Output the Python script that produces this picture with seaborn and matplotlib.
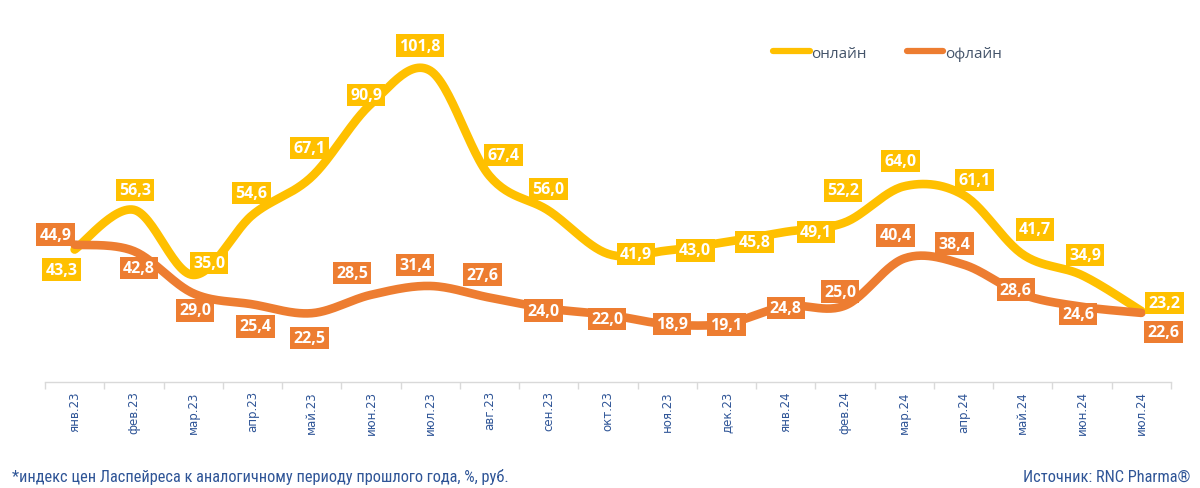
import numpy as np
import pandas as pd
import matplotlib
matplotlib.use("Agg")
import matplotlib.pyplot as plt
from matplotlib import font_manager
import seaborn as sns

# данные (индекс цен Ласпейреса, %)
months = ["янв.23", "фев.23", "мар.23", "апр.23", "май.23", "июн.23", "июл.23",
          "авг.23", "сен.23", "окт.23", "ноя.23", "дек.23", "янв.24", "фев.24",
          "мар.24", "апр.24", "май.24", "июн.24", "июл.24"]
online = [43.3, 56.3, 35.0, 54.6, 67.1, 90.9, 101.8, 67.4, 56.0, 41.9, 43.0,
          45.8, 49.1, 52.2, 64.0, 61.1, 41.7, 34.9, 23.2]
offline = [44.9, 42.8, 29.0, 25.4, 22.5, 28.5, 31.4, 27.6, 24.0, 22.0, 18.9,
           19.1, 24.8, 25.0, 40.4, 38.4, 28.6, 24.6, 22.6]

# смещения подписей (пиксели)
online_off = [(-13, -20), (1, 20), (16, 12), (-1, 22), (-2, 29), (-5, 9), (-10, 25),
              (14, 21), (0, 22), (28, 0), (28, 0), (28, 0), (30, 0), (-2, 32),
              (-4, 25), (11, 15), (12, 25), (3, 20), (23, 8)]
offline_off = [(-19, 10), (5, -17), (2, -17), (3, -22), (-2, -25), (-19, 22), (-15, 21),
               (-7, 23), (-5, -2), (-1, -4), (5, 0), (0, -1), (0, -2), (-5, 14),
               (-9, 23), (-9, 21), (-7, 5), (-4, -7), (22, -19)]

YELLOW = "#FFC000"
ORANGE = "#ED7D31"
BLUE = "#2F5597"


def smooth(y, n=30):
    # сглаживание как в Excel (кривые Безье через точки)
    x = np.arange(len(y), dtype=float)
    y = np.asarray(y, dtype=float)
    xs, ys = [], []
    for i in range(len(y) - 1):
        i0, i3 = max(i - 1, 0), min(i + 2, len(y) - 1)
        p0 = np.array([x[i], y[i]])
        p3 = np.array([x[i + 1], y[i + 1]])
        c1 = p0 + (p3 - np.array([x[i0], y[i0]])) / 6
        c2 = p3 - (np.array([x[i3], y[i3]]) - p0) / 6
        t = np.linspace(0, 1, n)[:, None]
        pts = (1 - t) ** 3 * p0 + 3 * (1 - t) ** 2 * t * c1 + 3 * (1 - t) * t ** 2 * c2 + t ** 3 * p3
        xs.extend(pts[:, 0])
        ys.extend(pts[:, 1])
    return xs, ys


# узкий шрифт для подписи снизу, если есть
names = {f.name for f in font_manager.fontManager.ttflist}
narrow = None
for cand in ["Liberation Sans Narrow", "DejaVu Sans Condensed", "Roboto Condensed", "Open Sans Condensed"]:
    if cand in names:
        narrow = cand
        break
foot_size = 11.8 if narrow else 9.3
foot_family = [narrow, "DejaVu Sans"] if narrow else ["DejaVu Sans"]

sns.set_theme(style="white")
plt.rcParams["font.family"] = ["Open Sans", "DejaVu Sans"]

fig = plt.figure(figsize=(12, 4.89), dpi=100)
ax = fig.add_axes([45 / 1200, (489 - 383) / 489, 1126 / 1200, 367 / 489])

for vals, col, name in [(online, YELLOW, "онлайн"), (offline, ORANGE, "офлайн")]:
    sx, sy = smooth(vals)
    df = pd.DataFrame({"x": sx, "y": sy})
    sns.lineplot(data=df, x="x", y="y", ax=ax, color=col, lw=6.2,
                 solid_capstyle="round", sort=False, label=name)

for vals, offs, col in [(offline, offline_off, ORANGE), (online, online_off, YELLOW)]:
    for i, (v, (dx, dy)) in enumerate(zip(vals, offs)):
        ax.annotate(f"{v:.1f}".replace(".", ","), (i, v), xytext=(dx, dy),
                    textcoords="offset pixels", ha="center", va="center",
                    fontsize=11.5, fontweight="bold", color="white", zorder=5,
                    bbox=dict(boxstyle="square,pad=0.2", fc=col, ec="none"))

ax.set_xlim(-0.5, len(months) - 0.5)
ax.set_ylim(0, 120)
ax.set_xticks(range(len(months)))
ax.set_xticklabels(months, rotation=90, fontsize=8.5, color=BLUE, family="DejaVu Sans")
ax.set_xticks(np.arange(-0.5, len(months)), minor=True)
ax.tick_params(axis="x", which="major", length=0, pad=6)
ax.tick_params(axis="x", which="minor", length=5, color="#D9D9D9", width=1, bottom=True)
ax.set_yticks([])
ax.set_xlabel("")
ax.set_ylabel("")
for s in ["top", "right", "left"]:
    ax.spines[s].set_visible(False)
ax.spines["bottom"].set_color("#D9D9D9")
ax.spines["bottom"].set_linewidth(1)

leg = ax.legend(loc="center left", bbox_to_anchor=(722 / 1126, 1 - 38 / 367),
                ncol=2, frameon=False, fontsize=11, handlelength=2.4,
                handletextpad=0.1, columnspacing=2.6, borderaxespad=0)
for line in leg.get_lines():
    line.set_linewidth(4.5)
for t in leg.get_texts():
    t.set_color("#44546A")

fig.text(12 / 1200, 1 - 477 / 489, "*индекс цен Ласпейреса к аналогичному периоду прошлого года, %, руб.",
         fontsize=foot_size, color=BLUE, va="center", ha="left", family=foot_family)
fig.text(1190 / 1200, 1 - 477 / 489, "Источник: RNC Pharma®",
         fontsize=foot_size, color=BLUE, va="center", ha="right", family=foot_family)

fig.savefig("out.png", dpi=100)
